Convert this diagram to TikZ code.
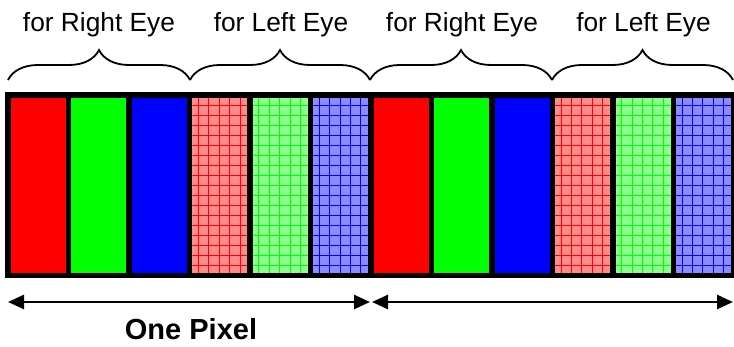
\documentclass[tikz,border=0pt]{standalone}
\usepackage{fontspec}
\setmainfont{Liberation Sans}
\usetikzlibrary{arrows.meta,decorations.pathreplacing}
\definecolor{palered}{RGB}{255,140,140}
\definecolor{palegreen}{RGB}{140,255,140}
\definecolor{paleblue}{RGB}{140,140,255}
\tikzset{
  cell/.style={inner sep=0pt, outer sep=0pt, minimum width=55pt, minimum height=175pt},
  framebox/.style={fill=black, inner sep=0pt, outer sep=0pt, minimum width=729pt, minimum height=186pt},
  bracket/.style={decorate, decoration={brace, amplitude=30pt}, line width=1.8pt},
  span/.style={line width=2.6pt, {Triangle[length=16pt,width=14pt]}-{Triangle[length=16pt,width=14pt]}},
  eyelabel/.style={anchor=base, inner sep=0pt, font=\fontsize{26.3}{30}\selectfont},
  pixlabel/.style={anchor=base, inner sep=0pt, font=\fontsize{29}{34}\selectfont\bfseries},
}
\newcommand{\hatchcell}[2]{%
  \begin{scope}
    \clip (#1.south west) rectangle (#1.north east);
    \foreach \k in {0,...,5} \draw[#2, line width=0.8pt] ([xshift=6pt+10.4*\k pt]#1.north west) -- ([xshift=6pt+10.4*\k pt]#1.south west);
    \foreach \k in {0,...,17} \draw[#2, line width=0.8pt] ([yshift=-7pt-10*\k pt]#1.north west) -- ([yshift=-7pt-10*\k pt]#1.north east);
  \end{scope}}
\begin{document}
\begin{tikzpicture}[x=1pt,y=-1pt]
\useasboundingbox (0,0) rectangle (734,347);
\node[framebox] (frame) at (369.5,185) {};
% cells
\node[cell, fill=red]       (c1)  at ({38.5+60.45*0},185.5) {};
\node[cell, fill=green]     (c2)  at ({38.5+60.45*1},185.5) {};
\node[cell, fill=blue]      (c3)  at ({38.5+60.45*2},185.5) {};
\node[cell, fill=palered]   (c4)  at ({38.5+60.45*3},185.5) {};
\node[cell, fill=palegreen] (c5)  at ({38.5+60.45*4},185.5) {};
\node[cell, fill=paleblue]  (c6)  at ({38.5+60.45*5},185.5) {};
\node[cell, fill=red]       (c7)  at ({38.5+60.45*6},185.5) {};
\node[cell, fill=green]     (c8)  at ({38.5+60.45*7},185.5) {};
\node[cell, fill=blue]      (c9)  at ({38.5+60.45*8},185.5) {};
\node[cell, fill=palered]   (c10) at ({38.5+60.45*9},185.5) {};
\node[cell, fill=palegreen] (c11) at ({38.5+60.45*10},185.5) {};
\node[cell, fill=paleblue]  (c12) at ({38.5+60.45*11},185.5) {};
\hatchcell{c4}{red}
\hatchcell{c5}{green}
\hatchcell{c6}{blue}
\hatchcell{c10}{red}
\hatchcell{c11}{green}
\hatchcell{c12}{blue}
% braces
\coordinate (b0) at (8,80);
\coordinate (b1) at (190,80);
\coordinate (b2) at (370,80);
\coordinate (b3) at (552,80);
\coordinate (b4) at (733,80);
\draw[bracket] (b0) -- (b1);
\draw[bracket] (b1) -- (b2);
\draw[bracket] (b2) -- (b3);
\draw[bracket] (b3) -- (b4);
% labels
\node[eyelabel] (t1) at (99,32) {for Right Eye};
\node[eyelabel] (t2) at (281,32) {for Left Eye};
\node[eyelabel] (t3) at (462,32) {for Right Eye};
\node[eyelabel] (t4) at (643.5,32) {for Left Eye};
% arrows
\coordinate (a0) at (8,302);
\coordinate (a1) at (370,302);
\coordinate (a2) at (372,302);
\coordinate (a3) at (733,302);
\draw[span] (a0) -- (a1);
\draw[span] (a2) -- (a3);
\node[pixlabel] (px) at (191,340) {One Pixel};
\end{tikzpicture}
\end{document}
